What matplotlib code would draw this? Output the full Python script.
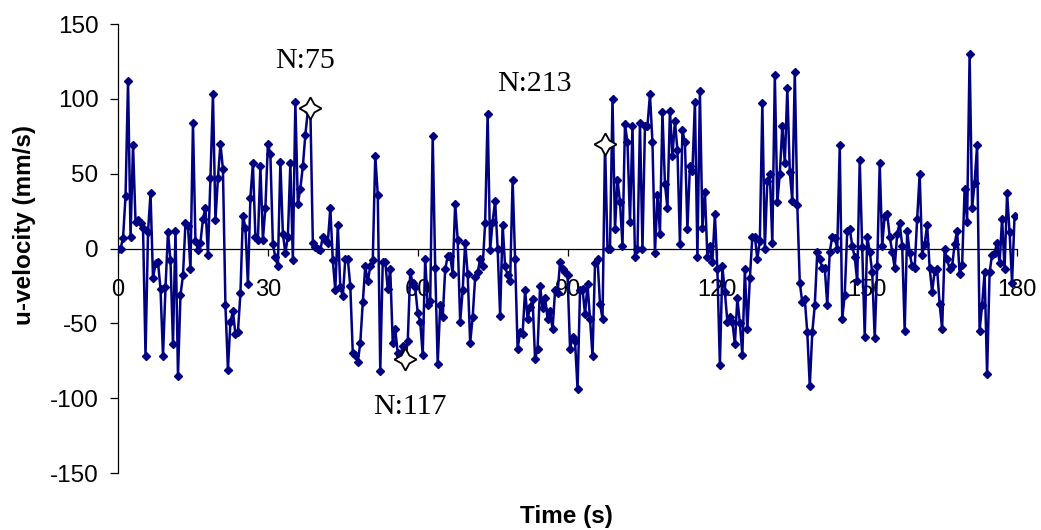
import numpy as np
import matplotlib
matplotlib.use("Agg")
import matplotlib.pyplot as plt

plt.rcParams["axes.unicode_minus"] = False

# u-velocity record, sampled every 0.5 s
dt = 0.5
u_velocity = [
    0, 0, 7, 35, 112, 8, 69, 18, 19, 17, 14, -72, 11, 37, -20, -10, -9, -27, -72, -26,
    11, -8, -64, 12, -85, -31, -18, 17, 15, -14, 84, 5, -1, 4, 20, 27,
    -4, 47, 103, 19, 47, 70, 53, -38, -81, -49, -42, -57, -56, -30, 22, 14, -24, 34, 57, 8,
    6, 55, 6, 27, 70, 63, 3, -6, -12, 58, 10, -3, 8, 57,
    -8, 98, 30, 40, 55, 76, 92, 94, 4, 1, 0, -1, 8, 6, 4, 27, -8, -28, 16, -26,
    -32, -7, -7, -25, -70, -71, -76, -63, -36, -12, -22, -12, -8, 62, 36, -82,
    -9, -9, -27, -14, -63, -54, -70, -72, -65, -74, -62, -16, -23, -26, -43, -49, -71, -7, -38, -35,
    75, -13, -77, -38, -46, -14, -5, -5, -17, 30, 6, -49, -28, 4,
    -17, -63, -46, -19, -16, -7, -12, 17, 90, -1, 18, 32, 0, -45, 16, -12, -18, -22, 46, -7,
    -67, -56, -57, -28, -47, -39, -34, -74, -67, -25, -40, -33, -47, -42, -54,
    -28, -30, -9, -14, -16, -18, -67, -59, -62, -94, -28, -27, -44, -24, -47, -72, -10, -7, -37, -47,
    70, 0, 0, 100, 13, 46, 31, 2, 83, 71, 18, 82, -6, 0, 84, 0, 82,
    82, 103, 71, -3, 36, 10, 91, 43, 27, 92, 62, 85, 66, 3, 79, 71, 13, 55, 52, 98,
    -6, 105, 14, 38, -6, 2, -9, 23, -14, -78, -12, -29, -49, -46, -49,
    -64, -33, -50, -71, -14, -54, -20, 8, 8, -7, 5, 97, 0, 45, 50, 4, 116, 31, 50, 82,
    57, 107, 51, 32, 118, 29, -23, -36, -34, -56, -92, -56, -38, -2, -7,
    -13, -13, -38, -2, 8, 7, 0, 69, -47, -31, 12, 13, 2, -6, -22, 59, 1, -59, 8, -2,
    -16, -60, -12, 57, 2, 22, 23, 8, -2, -13, 10, 17, 2, -55, 12,
    -3, -12, -13, 20, 50, -4, 3, 16, -13, -29, -15, -14, -37, -54, 0, -7, -14, -12, 3, 12,
    -17, -11, 40, 18, 130, 27, 44, 69, -55, -38, -16, -84, -16, -4, -3, 4,
    -10, 20, -14, 37, 11, -23, 22,
]
time_s = np.arange(len(u_velocity)) * dt

# highlighted samples: label, sample position in the record, label anchor (time, velocity)
highlight_labels = ["N:75", "N:117", "N:213"]
highlight_index = [77, 115, 195]
label_time = [37.4, 58.4, 83.4]
label_vel = [125, -106, 110]

x_ticks = [0, 30, 60, 90, 120, 150, 180]
y_ticks = [-150, -100, -50, 0, 50, 100, 150]

fig = plt.figure(figsize=(10.41, 5.30), dpi=100)
ax = fig.add_axes([0.1134, 0.1075, 0.8636, 0.8472])

ax.plot(time_s, u_velocity, color="#000080", lw=1.8, marker="D", ms=4,
        mec="#000080", mfc="#000080", zorder=3)

u_arr = np.asarray(u_velocity)
hi = np.asarray(highlight_index)
ax.plot(time_s[hi], u_arr[hi], linestyle="none", marker=(4, 1, 0), ms=16,
        mfc="white", mec="black", mew=1.3, zorder=4)

for lab, tx, ty in zip(highlight_labels, label_time, label_vel):
    ax.text(tx, ty, lab, ha="center", va="center", fontsize=21.5,
            family="Liberation Serif", color="black")

ax.set_xlim(0, 180)
ax.set_ylim(-150, 150)
ax.set_xticks(x_ticks)
ax.set_yticks(y_ticks)

ax.spines["top"].set_visible(False)
ax.spines["right"].set_visible(False)
ax.spines["bottom"].set_position(("data", 0))
ax.spines["bottom"].set_linewidth(0.9)
ax.spines["left"].set_linewidth(0.9)

ax.tick_params(axis="y", direction="out", length=6, width=0.9, labelsize=17.5, pad=8)
ax.tick_params(axis="x", direction="out", length=5, width=0.9, labelsize=17, pad=17)
for lbl in ax.get_xticklabels() + ax.get_yticklabels():
    lbl.set_family("Liberation Sans")

fig.text(0.024, 0.575, "u-velocity (mm/s)", rotation=90, ha="center", va="center",
         fontsize=17.5, fontweight="bold", family="Liberation Sans")
fig.text(0.544, 0.026, "Time (s)", ha="center", va="center", fontsize=17.5,
         fontweight="bold", family="Liberation Sans")

fig.savefig("out.png", dpi=100)
